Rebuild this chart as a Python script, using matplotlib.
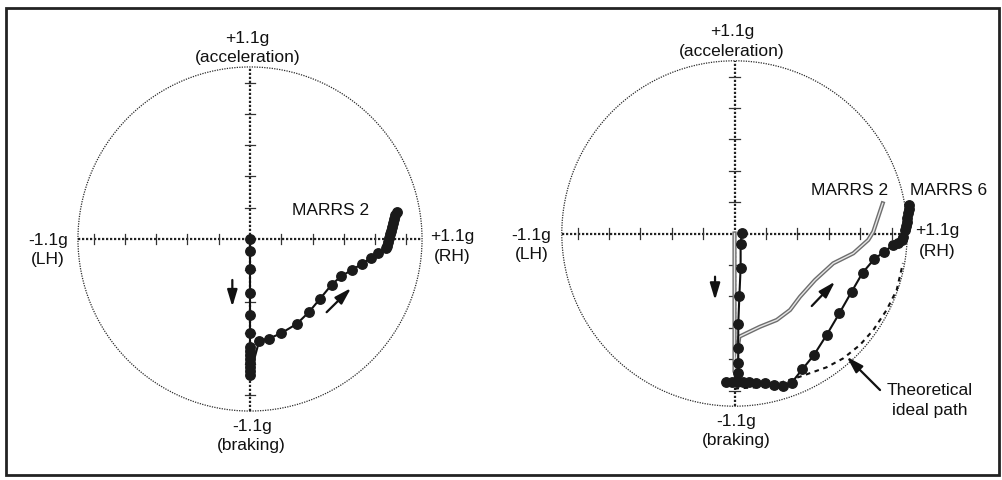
import matplotlib
matplotlib.use("Agg")
import matplotlib.pyplot as plt
from matplotlib.patches import Circle, Rectangle

plt.rcParams['font.family'] = ['Liberation Sans', 'DejaVu Sans']

W, H = 1003, 480
G_MAX = 1.1
tick_steps = [0.2, 0.4, 0.6, 0.8, 1.0]

# left panel: MARRS 2 friction circle trace (g units, x = lateral, y = longitudinal)
left_x = [0, 0, 0, 0, 0, 0, 0, 0, 0, 0, 0, 0, 0, 0,
          0.059, 0.121, 0.198, 0.299, 0.377, 0.448, 0.522, 0.582, 0.654, 0.718,
          0.774, 0.820, 0.868, 0.873, 0.880, 0.887, 0.894, 0.901, 0.908, 0.915,
          0.922, 0.930, 0.938]
left_y = [0, -0.075, -0.192, -0.343, -0.486, -0.603, -0.689, -0.716, -0.742,
          -0.767, -0.793, -0.818, -0.844, -0.87,
          -0.65, -0.637, -0.603, -0.543, -0.467, -0.382, -0.292, -0.239, -0.196,
          -0.158, -0.121, -0.091, -0.058, -0.043, -0.019, 0.005, 0.029, 0.054,
          0.078, 0.102, 0.126, 0.151, 0.175]

# right panel: MARRS 6 dotted trace
m6_x = [0.046, 0.039, 0.039, 0.031, 0.024, 0.024, 0.024, 0.024, 0.018,
        -0.018, -0.054, 0.056, 0.094, 0.137, 0.194, 0.252, 0.311, 0.364,
        0.432, 0.506, 0.587, 0.668, 0.746, 0.816, 0.889, 0.954, 1.011, 1.04,
        1.065, 1.075, 1.086, 1.09, 1.097, 1.1, 1.107, 1.11, 1.113]
m6_y = [0.005, -0.069, -0.218, -0.398, -0.578, -0.731, -0.827, -0.89, -0.944,
        -0.944, -0.944, -0.944, -0.947, -0.95, -0.955, -0.962, -0.971, -0.95,
        -0.865, -0.774, -0.646, -0.508, -0.371, -0.25, -0.164, -0.116, -0.073,
        -0.06, -0.041, -0.02, 0.022, 0.05, 0.075, 0.1, 0.129, 0.155, 0.182]

# right panel: MARRS 2 comparison trace (double line)
m2_x = [0, 0, 0.031, 0.162, 0.269, 0.354, 0.417, 0.513, 0.629, 0.757, 0.852,
        0.884, 0.944]
m2_y = [0, -0.88, -0.657, -0.594, -0.551, -0.487, -0.403, -0.296, -0.19,
        -0.126, -0.041, 0.011, 0.192]

# right panel: theoretical ideal path
ideal_x = [0.0, 0.024, 0.205, 0.417, 0.587, 0.693, 0.799, 0.884, 0.969, 1.033, 1.073]
ideal_y = [-0.99, -0.986, -0.976, -0.912, -0.852, -0.795, -0.71, -0.615, -0.487, -0.36, -0.188]

FS = 12.5
INK = '#111111'


def add_panel(cx, cy, s):
    hw, hh = 262, 236
    ax = fig.add_axes([(cx - hw) / W, (H - cy - hh) / H, 2 * hw / W, 2 * hh / H])
    ax.set_xlim(-hw / s, hw / s)
    ax.set_ylim(-hh / s, hh / s)
    ax.axis('off')
    ax.patch.set_alpha(0)
    ax.add_patch(Circle((0, 0), G_MAX, fill=False, ec='#2a2a2a', lw=0.9,
                        ls=(0, (1, 1))))
    ax.plot([-G_MAX, G_MAX], [0, 0], color='#222222', lw=1.6, ls=(0, (1, 0.8)))
    ax.plot([0, 0], [-G_MAX, G_MAX], color='#222222', lw=1.6, ls=(0, (1, 0.8)))
    for t in tick_steps:
        for v in (t, -t):
            ax.plot([v, v], [-0.035, 0.035], color='#333333', lw=0.9)
            ax.plot([-0.035, 0.035], [v, v], color='#333333', lw=0.9)
    lab = dict(fontsize=FS, color=INK, ha='center', va='center')
    ax.text(-0.015, 1.285, '+1.1g', **lab)
    ax.text(-0.015, 1.16, '(acceleration)', **lab)
    ax.text(-1.293, -0.01, '-1.1g', **lab)
    ax.text(-1.293, -0.132, '(LH)', **lab)
    ax.text(1.29, 0.018, '+1.1g', **lab)
    ax.text(1.29, -0.112, '(RH)', **lab)
    ax.text(0.012, -1.2, '-1.1g', **lab)
    ax.text(0.01, -1.321, '(braking)', **lab)
    return ax


def arrow(ax, tail, head):
    ax.annotate('', xy=head, xytext=tail,
                arrowprops=dict(arrowstyle='-|>,head_length=1.0,head_width=0.3',
                                lw=1.6, color=INK, shrinkA=0, shrinkB=0))


fig = plt.figure(figsize=(W / 100, H / 100), dpi=100)

# outer frame
fig.add_artist(Rectangle((6 / W, (H - 475) / H), 993 / W, 467 / H,
                         transform=fig.transFigure, fill=False, ec='#222222', lw=2))

# left panel
axl = add_panel(250, 239, 156.4)
axl.plot(left_x, left_y, color=INK, lw=1.5, marker='o', ms=6.8,
         mfc='#1a1a1a', mec='#1a1a1a', clip_on=False)
axl.text(0.512, 0.181, 'MARRS 2', fontsize=FS, color=INK, ha='center', va='center')
arrow(axl, (-0.113, -0.262), (-0.113, -0.433))
arrow(axl, (0.49, -0.468), (0.646, -0.314))

# right panel
axr = add_panel(734.5, 233.5, 157)
axr.plot(ideal_x, ideal_y, color=INK, lw=1.5, ls=(0, (2.2, 2.2)), clip_on=False)
axr.plot(m2_x, m2_y, color='#6e6e6e', lw=3.0, solid_joinstyle='round', clip_on=False)
axr.plot(m2_x, m2_y, color='#e6e6e6', lw=1.0, solid_joinstyle='round', clip_on=False)
axr.plot(m6_x, m6_y, color=INK, lw=1.5, marker='o', ms=6.8,
         mfc='#1a1a1a', mec='#1a1a1a', clip_on=False)
axr.text(0.736, 0.272, 'MARRS 2', fontsize=FS, color=INK, ha='center', va='center')
axr.text(1.366, 0.272, 'MARRS 6', fontsize=FS, color=INK, ha='center', va='center')
axr.text(1.245, -1.002, 'Theoretical', fontsize=FS, color=INK, ha='center', va='center')
axr.text(1.245, -1.129, 'ideal path', fontsize=FS, color=INK, ha='center', va='center')
arrow(axr, (0.927, -0.997), (0.715, -0.785))
arrow(axr, (-0.124, -0.275), (-0.124, -0.424))
arrow(axr, (0.492, -0.462), (0.64, -0.307))

fig.savefig('out.png', dpi=100, facecolor='white')
